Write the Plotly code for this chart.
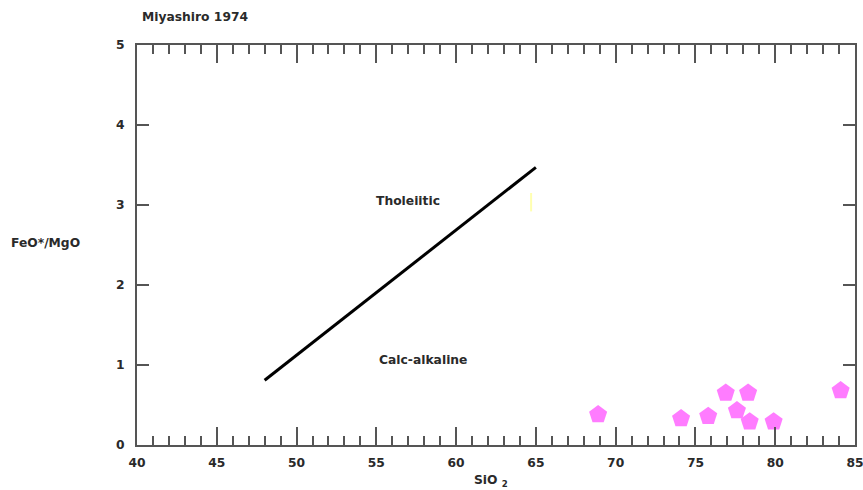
import plotly.graph_objects as go

# Sample compositions
sio2 = [68.9, 74.1, 75.8, 76.9, 78.3, 77.6, 78.4, 79.9, 84.1]
feo_mgo = [0.38, 0.33, 0.36, 0.65, 0.65, 0.43, 0.29, 0.29, 0.68]

# Miyashiro (1974) tholeiitic / calc-alkaline divider
divider_sio2 = [48, 65]
divider_ratio = [0.81, 3.47]

x_ticks = [40, 45, 50, 55, 60, 65, 70, 75, 80, 85]
y_ticks = [0, 1, 2, 3, 4, 5]

font = dict(family="DejaVu Sans, sans-serif", size=12.3, color="#2a2a2a",
            weight="bold")
axis_col = "#555555"

fig = go.Figure()

fig.add_trace(go.Scatter(
    x=divider_sio2, y=divider_ratio, mode="lines",
    line=dict(color="black", width=3), hoverinfo="skip", showlegend=False,
))

fig.add_trace(go.Scatter(
    x=sio2, y=feo_mgo, mode="markers",
    marker=dict(symbol="pentagon", size=19, color="#ff7cff",
                line=dict(width=0)),
    showlegend=False,
))

# small pale-yellow stroke beside the divider
fig.add_shape(type="line", x0=64.7, x1=64.7, y0=2.92, y1=3.15,
              line=dict(color="#ffffb0", width=2), layer="above")

fig.update_xaxes(
    range=[40, 85], tickvals=x_ticks, ticktext=[str(v) for v in x_ticks],
    ticks="inside", ticklen=18, tickwidth=2, tickcolor=axis_col,
    minor=dict(dtick=1, ticks="inside", ticklen=9, tickwidth=2, tickcolor=axis_col),
    showline=True, linecolor=axis_col, linewidth=2, mirror="ticks",
    showgrid=False, zeroline=False, tickfont=font, ticklabelstandoff=5,
    ticklabeloverflow="allow", automargin=False,
)
fig.update_yaxes(
    range=[0, 5], tickvals=y_ticks, ticktext=[str(v) for v in y_ticks],
    ticks="inside", ticklen=12, tickwidth=2, tickcolor=axis_col,
    showline=True, linecolor=axis_col, linewidth=2, mirror="ticks",
    showgrid=False, zeroline=False, tickfont=font, ticklabelstandoff=8,
    ticklabeloverflow="allow", automargin=False,
)

fig.add_annotation(text="Tholeiitic", x=57.0, y=3.05, showarrow=False, font=font)
fig.add_annotation(text="Calc-alkaline", x=57.9, y=1.06, showarrow=False, font=font)
fig.add_annotation(text="Miyashiro 1974", xref="paper", yref="paper",
                   x=0.004, y=1.07, xanchor="left", yanchor="middle",
                   showarrow=False, font=font)
fig.add_annotation(text="FeO*/MgO", xref="paper", yref="paper",
                   x=-0.178, y=0.505, xanchor="left", yanchor="middle",
                   showarrow=False, font=font)
fig.add_annotation(text="SiO <sub>2</sub>", x=62.2, xref="x", yref="paper",
                   y=-0.09, yanchor="middle", showarrow=False, font=font)

fig.update_layout(
    width=863, height=490,
    margin=dict(l=137, r=8, t=45, b=45),
    paper_bgcolor="white", plot_bgcolor="white",
)

fig.write_html("out.html")
